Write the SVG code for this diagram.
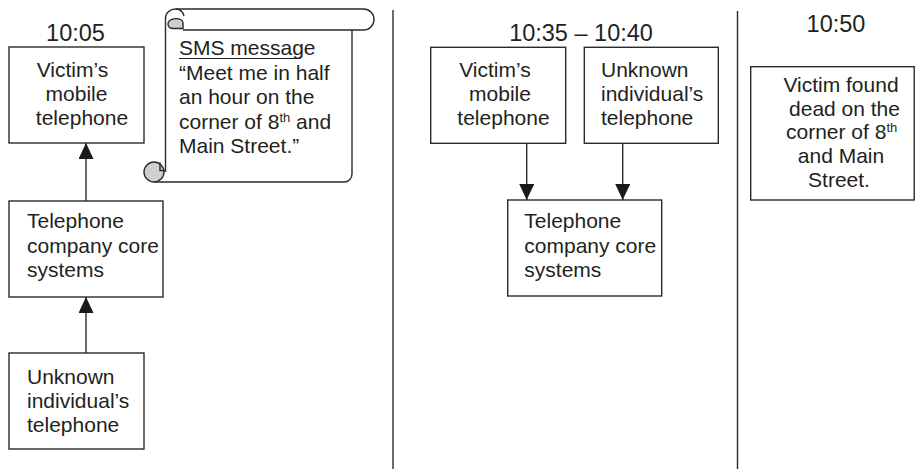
<svg xmlns="http://www.w3.org/2000/svg" width="915" height="469" viewBox="0 0 915 469">
<style>
text{font-family:"Liberation Sans",Arial,Helvetica,sans-serif;fill:#231f20}
.t{font-size:23.5px;text-anchor:middle}
.b{font-size:21px}
.c{text-anchor:middle}
.box{fill:#fff;stroke:#2a2a2a;stroke-width:1.4}
.ln{fill:none;stroke:#2a2a2a;stroke-width:1.4}
.sup{font-size:13px}
.curl{fill:#cfcfcf;stroke:#2a2a2a;stroke-width:1.4}
</style>
<defs>
<marker id="ah" viewBox="0 0 16 15" refX="16" refY="7.5" markerWidth="16" markerHeight="15" orient="auto" markerUnits="userSpaceOnUse">
<path d="M0,0 L16,7.5 L0,15 Z" fill="#1a1a1a"/>
</marker>
</defs>
<rect width="915" height="469" fill="#fff"/>

<g id="dividers">
<line class="ln" x1="393" y1="10" x2="393" y2="469"/>
<line class="ln" x1="737.5" y1="11" x2="737.5" y2="469"/>
</g>

<g id="titles">
<text class="t" x="75.5" y="41">10:05</text>
<text class="t" x="581" y="41">10:35 – 10:40</text>
<text class="t" x="836" y="32">10:50</text>
</g>

<g id="connectors">
<line class="ln" x1="86" y1="201" x2="86" y2="143" marker-end="url(#ah)"/>
<line class="ln" x1="86" y1="353" x2="86" y2="297" marker-end="url(#ah)"/>
<line class="ln" x1="526.7" y1="143" x2="526.7" y2="200" marker-end="url(#ah)"/>
<line class="ln" x1="622.7" y1="143" x2="622.7" y2="200" marker-end="url(#ah)"/>
</g>

<g id="n-victim-phone-1005">
<rect class="box" x="9" y="47" width="135" height="96"/>
<text class="b c" x="72.5" y="77">Victim’s</text>
<text class="b c" x="76.5" y="101">mobile</text>
<text class="b c" x="82" y="125">telephone</text>
</g>

<g id="n-core-1005">
<rect class="box" x="9" y="201" width="154" height="96"/>
<text class="b" x="27" y="228">Telephone</text>
<text class="b" x="27" y="253">company core</text>
<text class="b" x="27" y="277">systems</text>
</g>

<g id="n-unknown-1005">
<rect class="box" x="9" y="353" width="135" height="96"/>
<text class="b" x="27" y="384">Unknown</text>
<text class="b" x="27" y="408">individual’s</text>
<text class="b" x="27" y="432">telephone</text>
</g>

<g id="n-sms-scroll">
<path d="M176,9 H363.5 A10.5,10.5 0 0 1 363.5,30 H352 V174 A8,8 0 0 1 344,182 H154 L154,162 A10,10 0 0 1 164,172 H165.5 V18 A10,9 0 0 1 176,9 Z" fill="#fff" stroke="none"/>
<path class="ln" d="M176,9 H363.5 A10.5,10.5 0 0 1 363.5,30 H183"/>
<path class="ln" d="M165.5,172 V18 A10,9 0 0 1 176,9 A9,9 0 0 1 184,16"/>
<path class="curl" d="M168,24 C168,17.5 183,16.5 183,23 V28.5 H173 C170,28.5 168,26.5 168,24 Z"/>
<path class="ln" d="M352,30 V174 A8,8 0 0 1 344,182 H154"/>
<circle class="curl" cx="154" cy="172" r="10"/>
<path class="ln" d="M160,162.5 V170.5 H165.5"/>
<text class="b" x="179" y="55">SMS message</text>
<line x1="179" y1="58.5" x2="297" y2="58.5" stroke="#231f20" stroke-width="1.2"/>
<text class="b" x="179" y="79.5">“Meet me in half</text>
<text class="b" x="179" y="104">an hour on the</text>
<text class="b" x="179" y="128.5">corner of 8<tspan class="sup" dy="-7">th</tspan><tspan dy="7"> and</tspan></text>
<text class="b" x="179" y="153">Main Street.”</text>
</g>

<g id="n-victim-phone-1035">
<rect class="box" x="430.7" y="47.3" width="135" height="96"/>
<text class="b c" x="495" y="77">Victim’s</text>
<text class="b c" x="500" y="101">mobile</text>
<text class="b c" x="503.5" y="125">telephone</text>
</g>

<g id="n-unknown-1035">
<rect class="box" x="584.3" y="47.3" width="134" height="96"/>
<text class="b" x="601" y="77">Unknown</text>
<text class="b" x="601" y="101">individual’s</text>
<text class="b" x="601" y="125">telephone</text>
</g>

<g id="n-core-1035">
<rect class="box" x="507.7" y="200" width="154" height="96"/>
<text class="b" x="524.3" y="228">Telephone</text>
<text class="b" x="524.3" y="253">company core</text>
<text class="b" x="524.3" y="277">systems</text>
</g>

<g id="n-found-1050">
<rect class="box" x="750.7" y="66.7" width="163.5" height="133.3"/>
<text class="b c" x="841" y="92">Victim found</text>
<text class="b c" x="844.5" y="115.5">dead on the</text>
<text class="b" x="786" y="139">corner of 8<tspan class="sup" dy="-7">th</tspan></text>
<text class="b c" x="841" y="163">and Main</text>
<text class="b c" x="839" y="186.5">Street.</text>
</g>
</svg>
